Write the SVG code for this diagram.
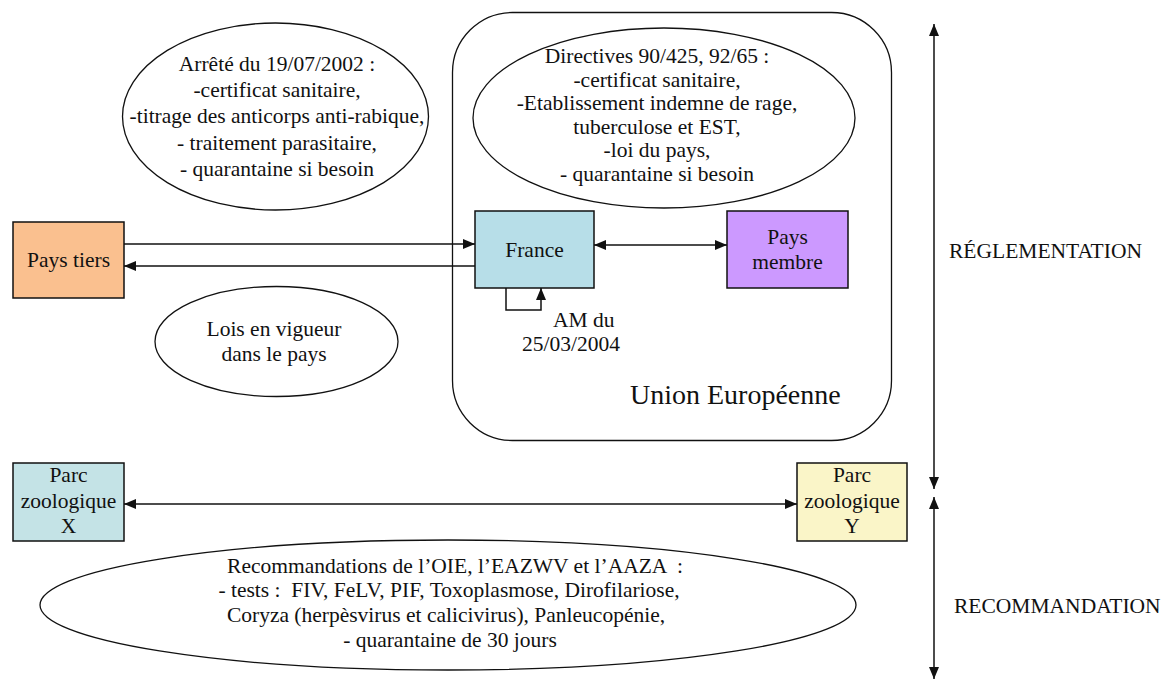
<svg xmlns="http://www.w3.org/2000/svg" width="1176" height="681" viewBox="0 0 1176 681">
<defs>
<style>
text{font-family:"Liberation Serif","Times New Roman",serif;font-size:21.5px;fill:#111;}
.c{text-anchor:middle;}
.sh{stroke:#111;stroke-width:1.5;}
.ell{fill:none;stroke:#111;stroke-width:1.3;}
.ln{fill:none;stroke:#111;stroke-width:1.5;}
</style>
<marker id="ah" viewBox="0 0 12 10" refX="12" refY="5" markerWidth="12" markerHeight="10" markerUnits="userSpaceOnUse" orient="auto-start-reverse">
<path d="M0,0 L12,5 L0,10 z" fill="#111"/>
</marker>
</defs>
<rect width="1176" height="681" fill="#fff"/>

<g id="union">
<rect x="452.5" y="12.5" width="439" height="428" rx="60" ry="60" class="ell"/>
<text x="630" y="404" style="font-size:28px">Union Européenne</text>
</g>

<g id="arrete">
<ellipse cx="275.5" cy="116.5" rx="153" ry="93.5" class="ell"/>
<text class="c" x="277" y="71">Arrêté du 19/07/2002 :</text>
<text class="c" x="277" y="97">-certificat sanitaire,</text>
<text class="c" x="277" y="123">-titrage des anticorps anti-rabique,</text>
<text class="c" x="277" y="149.5">- traitement parasitaire,</text>
<text class="c" x="277" y="176">- quarantaine si besoin</text>
</g>

<g id="directives">
<ellipse cx="664" cy="118" rx="191" ry="90" class="ell"/>
<text class="c" x="657" y="63">Directives 90/425, 92/65 :</text>
<text class="c" x="657" y="87">-certificat sanitaire,</text>
<text class="c" x="657" y="110">-Etablissement indemne de rage,</text>
<text class="c" x="657" y="134">tuberculose et EST,</text>
<text class="c" x="657" y="157">-loi du pays,</text>
<text class="c" x="657" y="181">- quarantaine si besoin</text>
</g>

<g id="pays-tiers">
<rect x="13" y="222" width="111" height="76" fill="#FAC08F" class="sh"/>
<text class="c" x="68.5" y="267">Pays tiers</text>
</g>

<g id="france">
<rect x="475" y="211" width="119" height="77" fill="#B7DEE8" class="sh"/>
<text class="c" x="534.5" y="257">France</text>
</g>

<g id="pays-membre">
<rect x="727" y="211" width="121" height="77" fill="#CC99FF" class="sh"/>
<text class="c" x="787.5" y="244">Pays</text>
<text class="c" x="787.5" y="269">membre</text>
</g>

<g id="am">
<text x="553" y="327">AM du</text>
<text x="522" y="351">25/03/2004</text>
</g>

<g id="lois">
<ellipse cx="276.5" cy="341.5" rx="121.5" ry="55" class="ell"/>
<text class="c" x="274" y="336">Lois en vigueur</text>
<text class="c" x="274" y="361">dans le pays</text>
</g>

<g id="parc-x">
<rect x="13" y="463" width="111" height="78" fill="#C4E3E6" class="sh"/>
<text class="c" x="68.5" y="482">Parc</text>
<text class="c" x="68.5" y="508">zoologique</text>
<text class="c" x="68.5" y="533">X</text>
</g>

<g id="parc-y">
<rect x="797" y="463" width="110" height="78" fill="#FAF5C8" class="sh"/>
<text class="c" x="852" y="482">Parc</text>
<text class="c" x="852" y="508">zoologique</text>
<text class="c" x="852" y="533">Y</text>
</g>

<g id="recommandations">
<ellipse cx="448" cy="605" rx="408" ry="65" class="ell"/>
<text class="c" x="455" y="573">Recommandations de l’OIE, l’EAZWV et l’AAZA &#160;:</text>
<text class="c" x="449" y="597">- tests : &#160;FIV, FeLV, PIF, Toxoplasmose, Dirofilariose,</text>
<text class="c" x="446" y="622">Coryza (herpèsvirus et calicivirus), Panleucopénie,</text>
<text class="c" x="450" y="647">- quarantaine de 30 jours</text>
</g>

<g id="labels">
<text x="949" y="258">RÉGLEMENTATION</text>
<text x="954" y="613">RECOMMANDATION</text>
</g>

<g id="connectors">
<line x1="124" y1="244" x2="475" y2="244" class="ln" marker-end="url(#ah)"/>
<line x1="475" y1="266" x2="124" y2="266" class="ln" marker-end="url(#ah)"/>
<line x1="594" y1="245" x2="727" y2="245" class="ln" marker-start="url(#ah)" marker-end="url(#ah)"/>
<path d="M506,288 V310 H541 V288" class="ln" marker-end="url(#ah)"/>
<line x1="124" y1="504" x2="797" y2="504" class="ln" marker-start="url(#ah)" marker-end="url(#ah)"/>
<line x1="934" y1="24" x2="934" y2="489" class="ln" marker-start="url(#ah)" marker-end="url(#ah)"/>
<line x1="934" y1="497" x2="934" y2="679" class="ln" marker-start="url(#ah)" marker-end="url(#ah)"/>
</g>
</svg>
